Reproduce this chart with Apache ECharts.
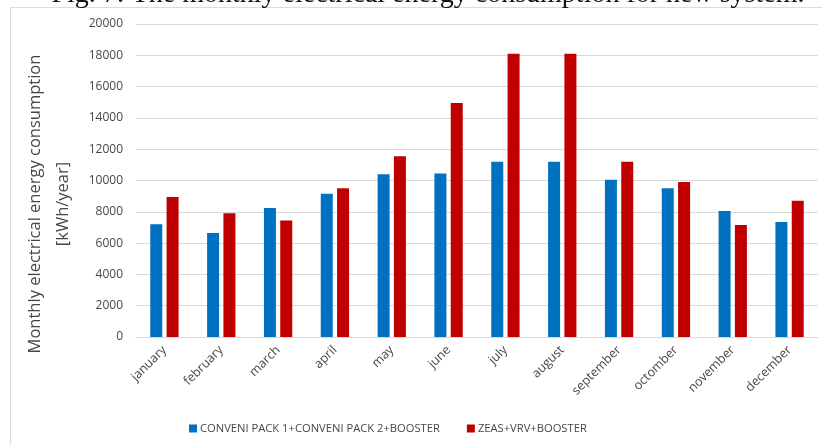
<!DOCTYPE html>
<html>
<head>
<meta charset="utf-8">
<script src="https://cdn.jsdelivr.net/npm/echarts@6/dist/echarts.min.js"></script>
<style>
  html, body { margin: 0; padding: 0; background: #ffffff; }
  #chart { width: 822px; height: 445px; }
</style>
</head>
<body>
<div id="chart"></div>
<script>
// Monthly electrical energy consumption, two system configurations
const months = ['january', 'february', 'march', 'april', 'may', 'june',
                'july', 'august', 'september', 'octomber', 'november', 'december'];
const conveniPack = [7200, 6650, 8250, 9150, 10400, 10450, 11200, 11200, 10050, 9500, 8050, 7350];
const zeasVrv = [8950, 7900, 7450, 9500, 11550, 14950, 18100, 18100, 11200, 9900, 7150, 8700];
const seriesNames = ['CONVENI PACK 1+CONVENI PACK 2+BOOSTER', 'ZEAS+VRV+BOOSTER'];
const yTicks = { min: 0, max: 20000, interval: 2000 };

const sans = '"Open Sans", "Noto Sans", sans-serif';
const labelGrey = '#474747';
const gridGrey = '#d9d9d9';

const chart = echarts.init(document.getElementById('chart'), null, { renderer: 'canvas' });

chart.setOption({
  animation: false,
  backgroundColor: '#ffffff',
  grid: { left: 136, right: 4, top: 24, bottom: 108, containLabel: false },
  legend: {
    data: seriesNames,
    left: 184,
    top: 418,
    itemWidth: 8,
    itemHeight: 8,
    itemGap: 27,
    icon: 'rect',
    textStyle: { fontFamily: sans, fontSize: 11.2, color: labelGrey, padding: [0, 0, 0, -2] }
  },
  xAxis: {
    type: 'category',
    data: months,
    axisLine: { show: true, lineStyle: { color: gridGrey, width: 1 } },
    axisTick: { show: false },
    axisLabel: {
      rotate: 45,
      interval: 0,
      margin: 11,
      fontFamily: sans,
      fontSize: 12.5,
      color: labelGrey
    }
  },
  yAxis: {
    type: 'value',
    min: yTicks.min,
    max: yTicks.max,
    interval: yTicks.interval,
    axisLine: { show: false },
    axisTick: { show: false },
    axisLabel: {
      margin: 13,
      fontFamily: sans,
      fontSize: 12,
      color: labelGrey,
      formatter: (v) => String(v)
    },
    splitLine: { lineStyle: { color: gridGrey, width: 1 } }
  },
  series: [
    {
      name: seriesNames[0],
      type: 'bar',
      data: conveniPack,
      barWidth: 12,
      barGap: '36%',
      itemStyle: { color: '#0070c0' }
    },
    {
      name: seriesNames[1],
      type: 'bar',
      data: zeasVrv,
      barWidth: 12,
      barGap: '36%',
      itemStyle: { color: '#c00000' }
    }
  ],
  graphic: [
    {
      type: 'rect',
      silent: true,
      z: -10,
      shape: { x: 10.5, y: 7.5, width: 840, height: 460 },
      style: { fill: 'none', stroke: '#dcdcdc', lineWidth: 1 }
    },
    {
      type: 'text',
      silent: true,
      x: 428,
      y: 9,
      style: {
        text: 'Fig. 7: The monthly electrical energy consumption for new system.',
        font: '28px "Liberation Serif", "DejaVu Serif", serif',
        fill: '#111111',
        align: 'center',
        verticalAlign: 'bottom'
      }
    },
    {
      type: 'text',
      silent: true,
      x: 49,
      y: 204,
      rotation: Math.PI / 2,
      style: {
        text: 'Monthly electrical energy consumption\n[kWh/year]',
        font: '16.5px ' + sans,
        fill: labelGrey,
        align: 'center',
        verticalAlign: 'middle',
        lineHeight: 28
      }
    }
  ]
});
</script>
</body>
</html>
